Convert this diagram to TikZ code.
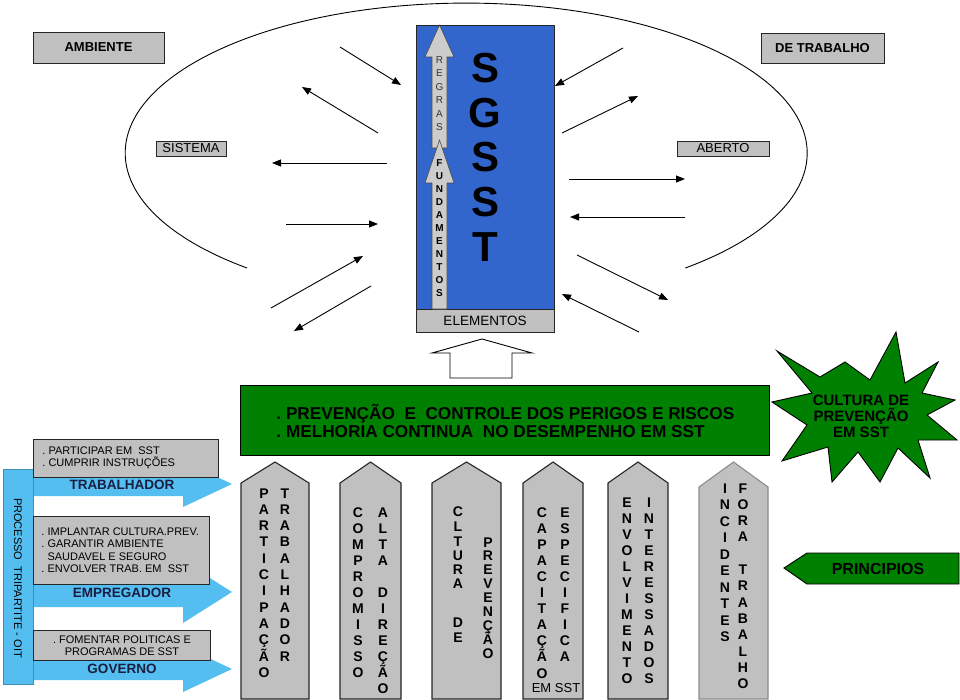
\documentclass[tikz,border=0pt]{standalone}
\usepackage{fontspec}
\setmainfont{Liberation Sans}
\usetikzlibrary{arrows.meta}

\definecolor{boxgray}{RGB}{192,192,192}
\definecolor{sgsstblue}{RGB}{51,102,204}
\definecolor{sstgreen}{RGB}{0,128,0}
\definecolor{tripblue}{RGB}{85,190,240}
\definecolor{labelnavy}{RGB}{25,30,65}

\newcommand{\fsz}[1]{\fontsize{#1}{#1}\selectfont}

% one letter under the other: style, name, x, first baseline, step, letters
\newcommand{\letterstack}[6]{%
  \foreach \ch [count=\k from 0] in {#6}
    \node[#1] (#2-\k) at (#3, {#4+\k*#5}) {\ch};%
}

\tikzset{
  graybox/.style={draw=black!85, fill=boxgray, line width=0.9pt, inner sep=0pt},
  greenshape/.style={draw=black, fill=sstgreen, line width=0.9pt},
  colshape/.style={draw=black!85, fill=boxgray, line width=1.1pt, line join=miter},
  colletter/.style={font=\fsz{14}\bfseries, inner sep=0pt, anchor=base},
  smallletter/.style={font=\fsz{10}, text=black!80, inner sep=0pt, anchor=base},
  smallbold/.style={font=\fsz{10}\bfseries, inner sep=0pt, anchor=base},
  bigletter/.style={font=\fsz{42}\bfseries, inner sep=0pt, anchor=base},
  tripbluearrow/.style={fill=tripblue, draw=none},
  roletext/.style={font=\fsz{13.5}\bfseries, text=labelnavy, inner sep=0pt},
  dutytext/.style={font=\fsz{11}, align=left, inner sep=0pt, anchor=west},
}

\begin{document}
\begin{tikzpicture}[x=1pt, y=-1pt, line width=0.9pt,
    >={Triangle[length=9pt,width=7pt]}]
    \useasboundingbox (0,0) rectangle (960,700);

    % open system: the ellipse
    \coordinate (ellstart) at (247,268);
    \draw (ellstart) arc[start angle=130, end angle=410, x radius=341, y radius=150];

    % labels round the system
    \node[graybox, font=\fsz{13}\bfseries, minimum width=131pt, minimum height=31pt] (ambiente) at (98.5,47.5) {AMBIENTE};
    \node[graybox, font=\fsz{13}\bfseries, minimum width=123pt, minimum height=30pt] (trabalho) at (822.5,48) {DE TRABALHO};
    \node[graybox, font=\fsz{13}, line width=0.7pt, minimum width=70pt, minimum height=15pt] (sistema) at (191,148.5) {SISTEMA};
    \node[graybox, font=\fsz{13}, line width=0.7pt, minimum width=92pt, minimum height=15pt] (aberto) at (723,148.5) {ABERTO};

    % exchange arrows, left side
    \coordinate (la0) at (340,47);  \coordinate (lb0) at (401,85);
    \coordinate (la1) at (378,133); \coordinate (lb1) at (302,87);
    \coordinate (la2) at (387,163); \coordinate (lb2) at (272,163);
    \coordinate (la3) at (286,224); \coordinate (lb3) at (378,224);
    \coordinate (la4) at (271,308); \coordinate (lb4) at (363,256);
    \coordinate (la5) at (371,286); \coordinate (lb5) at (294,331);
    % exchange arrows, right side
    \coordinate (ra0) at (623,48);  \coordinate (rb0) at (555,86);
    \coordinate (ra1) at (562,133); \coordinate (rb1) at (638,96);
    \coordinate (ra2) at (569,179); \coordinate (rb2) at (685,179);
    \coordinate (ra3) at (685,217); \coordinate (rb3) at (570,217);
    \coordinate (ra4) at (577,255); \coordinate (rb4) at (668,300);
    \coordinate (ra5) at (639,332); \coordinate (rb5) at (562,294);
    \foreach \i in {0,...,5} {
        \draw[->] (la\i) -- (lb\i);
        \draw[->] (ra\i) -- (rb\i);
    }

    % SGSST block
    \node[draw=black!85, fill=sgsstblue, minimum width=138pt, minimum height=307pt, inner sep=0pt] (sgsst) at (485,178.5) {};
    \node[graybox, font=\fsz{13.5}, minimum width=138pt, minimum height=23pt] (elementos) at (485,320.5) {ELEMENTOS};
    \filldraw[fill=black!20, draw=black!70, line width=0.6pt]
        (432,148) -- (432,57) -- (425,57) -- (439.5,25) -- (454,57) -- (447,57) -- (447,148) -- cycle;
    \filldraw[fill=black!20, draw=black!70, line width=0.6pt]
        (432,309) -- (432,183) -- (425,183) -- (439.5,140) -- (454,183) -- (447,183) -- (447,309) -- cycle;
    \letterstack{smallletter}{regras}{439.5}{63.6}{13.4}{R,E,G,R,A,S}
    \letterstack{smallbold}{fund}{439.5}{166.6}{13}{F,U,N,D,A,M,E,N,T,O,S}
    \foreach \ch/\yy in {S/83, G/128, S/172, S/217, T/262}
        \node[bigletter] (big-\yy) at (485,\yy) {\ch};

    % hollow arrow under the block
    \draw[fill=white] (450,378) -- (450,353) -- (432,353) -- (482,339) -- (532,353) -- (512,353) -- (512,378) -- cycle;

    % goals box
    \node[greenshape, minimum width=529pt, minimum height=70pt, inner sep=0pt] (metas) at (504.5,420) {};
    \node[font=\fsz{17.2}\bfseries, align=left, anchor=west, inner sep=0pt] (metastxt) at (276,421)
        {.\ PREVENÇÃO\ \ E\ \ CONTROLE DOS PERIGOS E RISCOS\\[1pt]
         .\ MELHORIA CONTINUA\ \ NO DESEMPENHO EM SST};

    % star
    \filldraw[greenshape] (777,351) -- (820,377) -- (845,362) -- (870,380) -- (896,332) -- (905,383)
        -- (938,362) -- (922,393) -- (955,400) -- (927,415) -- (957,440) -- (918,440) -- (930,478)
        -- (898,448) -- (880,482) -- (858,452) -- (832,482) -- (828,447) -- (782,461) -- (807,425)
        -- (772,402) -- (812,393) -- cycle;
    \node[font=\fsz{15}\bfseries, align=center, inner sep=0pt] (cultura) at (861,416)
        {CULTURA DE\\[1pt] PREVENÇÃO\\[1pt] EM SST};

    % principles arrow
    \filldraw[greenshape] (784,568) -- (807,553) -- (959,553) -- (959,584) -- (807,584) -- cycle;
    \node[font=\fsz{16}\bfseries, inner sep=0pt] (principios) at (878,569) {PRINCIPIOS};

    % tripartite process
    \fill[tripbluearrow] (30,472) -- (183,472) -- (183,461) -- (232,484) -- (183,507) -- (183,496) -- (30,496) -- cycle;
    \fill[tripbluearrow] (30,577) -- (183,577) -- (183,561) -- (232,592) -- (183,623) -- (183,607) -- (30,607) -- cycle;
    \fill[tripbluearrow] (30,658) -- (183,658) -- (183,646) -- (232,669) -- (183,692) -- (183,680) -- (30,680) -- cycle;
    \node[fill=tripblue, draw=tripblue!75!black, line width=0.6pt, minimum width=30pt, minimum height=215pt, inner sep=0pt] (tripartite) at (18,576.5) {};
    \node[font=\fsz{11}, rotate=-90, inner sep=0pt] (triptxt) at (18,578) {PROCESSO\ \ TRIPARTITE - OIT};

    \node[graybox, minimum width=185pt, minimum height=38pt] (trabbox) at (125.5,458) {};
    \node[dutytext] (trabtxt) at (42,458) {.\ PARTICIPAR EM\ \ SST\\[1pt] .\ CUMPRIR INSTRUÇÕES};
    \node[graybox, minimum width=176pt, minimum height=68pt] (empbox) at (121,550) {};
    \node[dutytext] (emptxt) at (41,550) {.\ IMPLANTAR CULTURA.PREV.\\[1.5pt] .\ GARANTIR AMBIENTE\\[1.5pt]
        \ \ SAUDAVEL E SEGURO\\[1.5pt] .\ ENVOLVER TRAB. EM\ \ SST};
    \node[graybox, minimum width=177pt, minimum height=30pt] (govbox) at (121.5,645) {};
    \node[font=\fsz{11}, align=center, inner sep=0pt] (govtxt) at (122,646) {.\ FOMENTAR POLITICAS E\\[1pt] PROGRAMAS DE SST};

    \node[roletext] (trabalhador) at (122,485) {TRABALHADOR};
    \node[roletext] (empregador) at (122,593) {EMPREGADOR};
    \node[roletext] (governo) at (122,669) {GOVERNO};

    % principle columns
    \foreach \l/\r in {241/309, 340/401, 432/501, 523/583, 608/668}
        \draw[colshape] (\l,699) -- (\l,483) -- ({(\l+\r)/2},462) -- (\r,483) -- (\r,699) -- cycle;
    \draw[colshape, draw=black!45] (699,699) -- (699,487) -- (733.5,462) -- (768,487) -- (768,699) -- cycle;

    \letterstack{colletter}{part}{264}{498}{16.3}{P,A,R,T,I,C,I,P,A,Ç,Ã,O}
    \letterstack{colletter}{trab}{285}{498}{16.3}{T,R,A,B,A,L,H,A,D,O,R}
    \letterstack{colletter}{comp}{358}{517}{16}{C,O,M,P,R,O,M,I,S,S,O}
    \letterstack{colletter}{alta}{383}{517}{16}{A,L,T,A,~,D,I,R,E,Ç,Ã,O}
    \foreach \ch/\yy [count=\k] in {C/511, L/526, T/541, U/555, R/569, A/583, D/622, E/637}
        \node[colletter] (cult-\k) at (458,\yy+5) {\ch};
    \letterstack{colletter}{prev}{488}{547}{13.9}{P,R,E,V,E,N,Ç,Ã,O}
    \letterstack{colletter}{capa}{542}{517}{16.1}{C,A,P,A,C,I,T,A,Ç,Ã,O}
    \letterstack{colletter}{espe}{565}{517}{16.1}{E,S,P,E,C,I,F,I,C,A}
    \node[font=\fsz{13}, inner sep=0pt] (emsst) at (556,688) {EM SST};
    \letterstack{colletter}{envo}{627}{507}{16}{E,N,V,O,L,V,I,M,E,N,T,O}
    \letterstack{colletter}{inte}{649}{507}{16}{I,N,T,E,R,E,S,S,A,D,O,S}
    \letterstack{colletter}{inci}{725}{493}{16.5}{I,N,C,I,D,E,N,T,E,S}
    \letterstack{colletter}{fora}{743}{493}{16.3}{F,O,R,A,~,T,R,A,B,A,L,H,O}
\end{tikzpicture}
\end{document}
